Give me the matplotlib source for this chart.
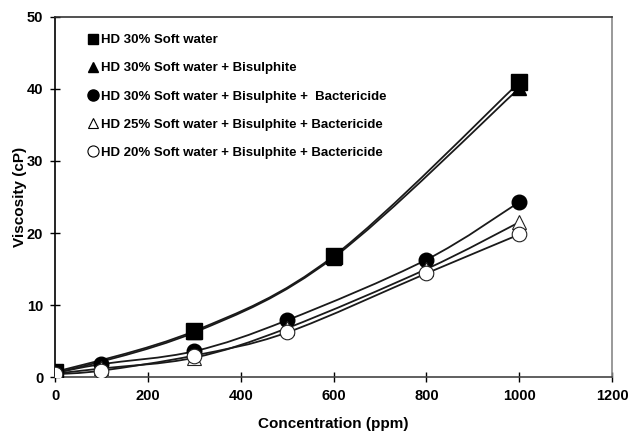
import numpy as np
import matplotlib.pyplot as plt
from matplotlib.path import Path
from matplotlib.patches import PathPatch
from matplotlib.lines import Line2D

plt.rcParams['font.family'] = ['Liberation Sans', 'DejaVu Sans']
plt.rcParams['font.weight'] = 'bold'

# viscosity (cP) against bisulphite/bactericide concentration (ppm)
conc_a = [0, 300, 600, 1000]
soft30 = [0.7, 6.4, 16.8, 40.9]
soft30_bis = [0.5, 6.2, 16.6, 40.1]

conc_b = [0, 100, 300, 500, 800, 1000]
soft30_bis_bac = [0.6, 1.8, 3.6, 7.9, 16.3, 24.3]
soft25_bis_bac = [0.5, 1.2, 2.7, 6.8, 15.0, 21.5]
soft20_bis_bac = [0.4, 0.9, 3.0, 6.2, 14.4, 19.8]

labels = ['HD 30% Soft water',
          'HD 30% Soft water + Bisulphite',
          'HD 30% Soft water + Bisulphite +  Bactericide',
          'HD 25% Soft water + Bisulphite + Bactericide',
          'HD 20% Soft water + Bisulphite + Bactericide']


def smooth_path(xs, ys):
    # Catmull-Rom style bezier through the points, like a spreadsheet "smoothed line"
    p = np.column_stack([xs, ys]).astype(float)
    n = len(p)
    verts = [p[0]]
    codes = [Path.MOVETO]
    for i in range(n - 1):
        p0 = p[i - 1] if i > 0 else p[i]
        p3 = p[i + 2] if i + 2 < n else p[i + 1]
        c1 = p[i] + (p[i + 1] - p0) / 6
        c2 = p[i + 1] - (p3 - p[i]) / 6
        verts += [c1, c2, p[i + 1]]
        codes += [Path.CURVE4] * 3
    return Path(verts, codes)


fig = plt.figure(figsize=(6.33, 4.32), dpi=100)
ax = fig.add_axes([0.087, 0.127, 0.88, 0.834])

series = [
    (conc_a, soft30, dict(marker='s', ms=11, mfc='black', mec='black')),
    (conc_a, soft30_bis, dict(marker='^', ms=10, mfc='black', mec='black')),
    (conc_b, soft30_bis_bac, dict(marker='o', ms=10.5, mfc='black', mec='black')),
    (conc_b, soft25_bis_bac, dict(marker='^', ms=10, mfc='white', mec='#222222', mew=0.8)),
    (conc_b, soft20_bis_bac, dict(marker='o', ms=10.5, mfc='white', mec='#222222', mew=0.8)),
]

for xs, ys, style in series:
    ax.add_patch(PathPatch(smooth_path(xs, ys), fill=False, ec='#1a1a1a', lw=1.3, zorder=2))
for xs, ys, style in series:
    ax.plot(xs, ys, ls='none', zorder=3, **style)

ax.set_xlim(0, 1200)
ax.set_ylim(0, 50)
ax.set_xticks(range(0, 1201, 200))
ax.set_yticks(range(0, 51, 10))
ax.tick_params(direction='inout', length=7, width=1, labelsize=10.5, pad=5)
ax.set_xlabel('Concentration (ppm)', fontsize=11, fontweight='bold', labelpad=10)
ax.set_ylabel('Viscosity (cP)', fontsize=11, fontweight='bold', labelpad=0)

ax.spines['left'].set_color('black')
ax.spines['bottom'].set_color('#444444')
ax.spines['top'].set_color('#333333')
ax.spines['right'].set_color('#888888')
for s in ax.spines.values():
    s.set_linewidth(1.2)

handles = [Line2D([], [], ls='none', marker='s', ms=7.5, mfc='black', mec='black'),
           Line2D([], [], ls='none', marker='^', ms=7, mfc='black', mec='black'),
           Line2D([], [], ls='none', marker='o', ms=8, mfc='black', mec='black'),
           Line2D([], [], ls='none', marker='^', ms=7, mfc='white', mec='black', mew=0.8),
           Line2D([], [], ls='none', marker='o', ms=8, mfc='white', mec='black', mew=0.8)]
ax.legend(handles, labels, loc='upper left', bbox_to_anchor=(0.04, 0.985), frameon=False,
          labelspacing=1.2, handlelength=0.6, handletextpad=0.3,
          prop={'weight': 'bold', 'size': 9.5})

fig.savefig('out.png', dpi=100)
